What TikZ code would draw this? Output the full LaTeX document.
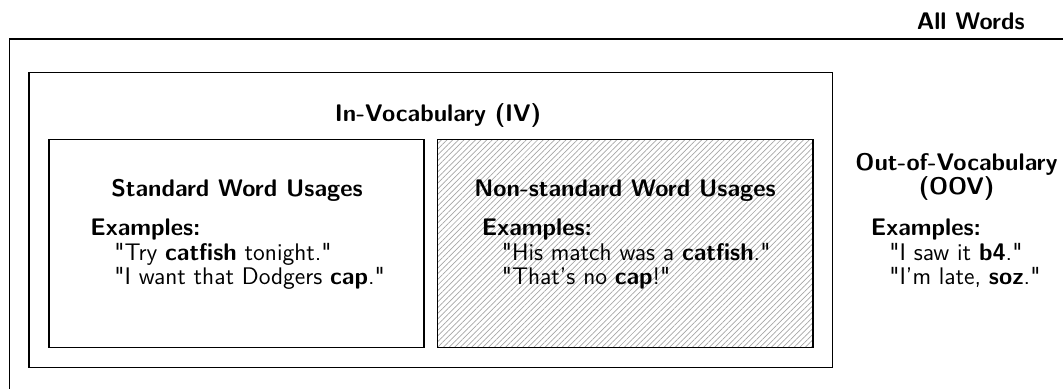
\documentclass[tikz,border=0pt]{standalone}
\usetikzlibrary{patterns.meta}
\newcommand{\dq}{\textquotedbl}
\begin{document}
\begin{tikzpicture}[x=0.5pt,y=-0.5pt,
  box/.style={draw, line width=0.9pt},
  txt/.style={inner sep=0pt, anchor=base west, font=\fontsize{12}{14}\sffamily},
  ttl/.style={inner sep=0pt, anchor=base, font=\fontsize{12}{14}\sffamily\bfseries},
  hatch/.style={pattern={Lines[angle=45,distance=2pt,line width=0.35pt]}, pattern color=black!35}]
\useasboundingbox (0,0) rectangle (1063,389);
\clip (0,0) rectangle (1063,389);
% boxes
\draw[box] (9.5,39) rectangle (1200,500);
\coordinate (ivA) at (29,72.5); \coordinate (ivB) at (832.5,367.5);
\draw[box] (ivA) rectangle (ivB);
\coordinate (stA) at (49,139.5); \coordinate (stB) at (424,347.5);
\draw[box] (stA) rectangle (stB);
\coordinate (nsA) at (437.5,139.5); \coordinate (nsB) at (813,347.5);
\fill[hatch] (nsA) rectangle (nsB);
\draw[box] (nsA) rectangle (nsB);
% texts
\node[ttl, anchor=base east] (all) at (1025,30) {All Words};
\node[ttl] (iv) at (438,122) {In-Vocabulary (IV)};
\node[ttl] (sttitle) at (237,197) {Standard Word Usages};
\node[txt] (stex) at (90,236) {\bfseries Examples:};
\node[txt] (stq1) at (114,261) {\dq Try \textbf{catfish} tonight.\dq};
\node[txt] (stq2) at (114,285) {\dq I want that Dodgers \textbf{cap}.\dq};
\node[ttl] (nstitle) at (625,197) {Non-standard Word Usages};
\node[txt] (nsex) at (481.5,236) {\bfseries Examples:};
\node[txt] (nsq1) at (501.5,261) {\dq His match was a \textbf{catfish}.\dq};
\node[txt] (nsq2) at (501.5,285) {\dq That's no \textbf{cap}!\dq};
\node[ttl] (oov1) at (956.5,171) {Out-of-Vocabulary};
\node[ttl] (oov2) at (956.5,195) {(OOV)};
\node[txt] (oovex) at (870.5,236) {\bfseries Examples:};
\node[txt] (oovq1) at (889,261) {\dq I saw it \textbf{b4}.\dq};
\node[txt] (oovq2) at (889,285) {\dq I'm late, \textbf{soz}.\dq};
\end{tikzpicture}
\end{document}
